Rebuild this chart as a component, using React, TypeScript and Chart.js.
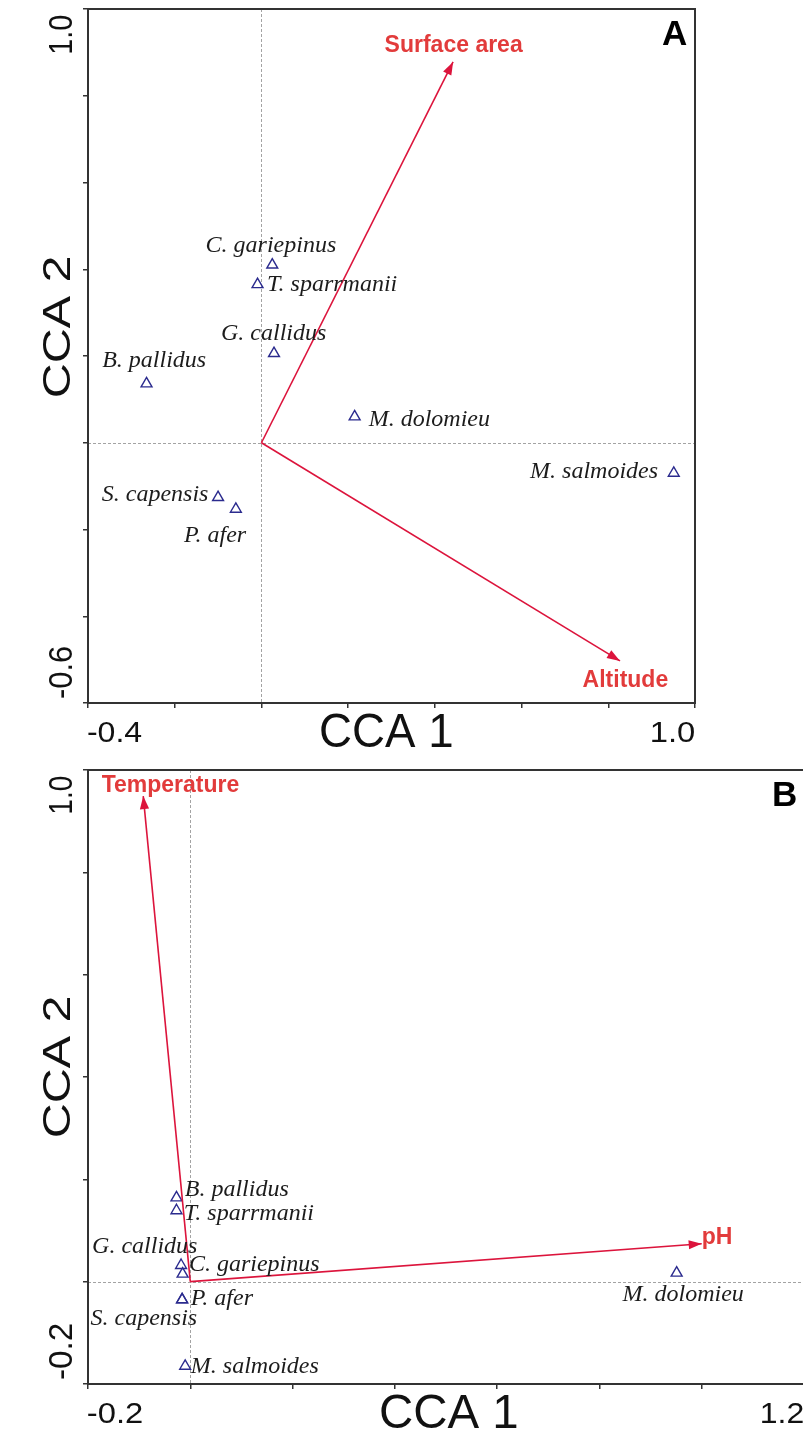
import { useEffect, useRef } from 'react';
import { Chart, registerables } from 'chart.js';

Chart.register(...registerables);

// ---------- Panel A: species and environmental scores ----------
const speciesA = ['C. gariepinus', 'T. sparrmanii', 'G. callidus', 'B. pallidus', 'M. dolomieu', 'M. salmoides', 'S. capensis', 'P. afer'];
const speciesA_cca1 = [0.025, -0.009, 0.029, -0.265, 0.215, 0.951, -0.1, -0.059];
const speciesA_cca2 = [0.41, 0.365, 0.206, 0.136, 0.06, -0.07, -0.126, -0.153];
const envA = ['Surface area', 'Altitude'];
const envA_cca1 = [0.442, 0.827];
const envA_cca2 = [0.878, -0.503];
const xRangeA = [-0.4, 1.0];
const yRangeA = [-0.6, 1.0];
const xTickLabelsA = ['-0.4', '1.0'];
const yTickLabelsA = ['-0.6', '1.0'];

// ---------- Panel B: species and environmental scores ----------
const speciesB = ['B. pallidus', 'T. sparrmanii', 'G. callidus', 'C. gariepinus', 'P. afer', 'S. capensis', 'M. salmoides', 'M. dolomieu'];
const speciesB_cca1 = [-0.027, -0.027, -0.018, -0.015, -0.016, -0.016, -0.01, 0.951];
const speciesB_cca2 = [0.164, 0.139, 0.032, 0.015, -0.035, -0.035, -0.165, 0.017];
const envB = ['Temperature', 'pH'];
const envB_cca1 = [-0.092, 1.0];
const envB_cca2 = [0.949, 0.074];
const xRangeB = [-0.2, 1.2];
const yRangeB = [-0.2, 1.0];
const xTickLabelsB = ['-0.2', '1.2'];
const yTickLabelsB = ['-0.2', '1.0'];

const tickStep = 0.2;

// ---------- styling ----------
const SANS = '"Liberation Sans", Arial, Helvetica, sans-serif';
const SERIF = '"Liberation Serif", "Times New Roman", serif';
const ENV_LINE = '#dc143c';
const ENV_TEXT = '#e23b3b';
const POINT_COLOR = '#2b2b8e';
const TEXT = '#111';

type Align = 'left' | 'right' | 'center';
type Place = { align: Align; dx: number; dy: number };

const speciesPlaceA: Place[] = [
  { align: 'center', dx: -1, dy: -13 },
  { align: 'left', dx: 10.5, dy: 6.7 },
  { align: 'center', dx: 0, dy: -13.3 },
  { align: 'center', dx: 7.5, dy: -17 },
  { align: 'left', dx: 13, dy: 9.4 },
  { align: 'right', dx: -16, dy: 5 },
  { align: 'right', dx: -10, dy: 3.4 },
  { align: 'right', dx: 11, dy: 32.8 },
];
const envPlaceA: Place[] = [
  { align: 'center', dx: 0.7, dy: -10 },
  { align: 'center', dx: 5, dy: 26 },
];
const speciesPlaceB: Place[] = [
  { align: 'left', dx: 8.3, dy: -1.6 },
  { align: 'left', dx: 8.3, dy: 9.1 },
  { align: 'right', dx: 16, dy: -12.6 },
  { align: 'left', dx: 7.3, dy: -2.6 },
  { align: 'left', dx: 7.7, dy: 5.1 },
  { align: 'right', dx: 14.7, dy: 25.1 },
  { align: 'left', dx: 4.7, dy: 6.7 },
  { align: 'center', dx: 6, dy: 28.4 },
];
const envPlaceB: Place[] = [
  { align: 'left', dx: -41.6, dy: -3.7 },
  { align: 'left', dx: 1, dy: 0 },
];

interface PanelSpec {
  letter: string;
  xRange: number[];
  yRange: number[];
  xTickLabels: string[];
  yTickLabels: string[];
  species: string[];
  s1: number[];
  s2: number[];
  sPlace: Place[];
  env: string[];
  e1: number[];
  e2: number[];
  ePlace: Place[];
  padding: { left: number; right: number; top: number; bottom: number };
  // ink lengths of the end tick labels and titles (printed figure proportions)
  xTickLen: number[];
  yTickLen: number[];
  xTitleLen: number;
  yTitleLen: number;
  xTitleDx: number;
  yTitleDy: number;
}

// Draws text whose ink box (not advance box) is aligned to the origin,
// optionally stretched along the baseline to a given ink length and
// rotated to read bottom-to-top.
function inkText(
  ctx: CanvasRenderingContext2D,
  text: string,
  x: number,
  y: number,
  font: string,
  color: string,
  align: Align,
  fitLen = 0,
  rotate = false
) {
  ctx.save();
  ctx.font = font;
  ctx.textAlign = 'left';
  ctx.textBaseline = 'alphabetic';
  const m = ctx.measureText(text);
  const inkL = -m.actualBoundingBoxLeft;
  const inkR = m.actualBoundingBoxRight;
  const sx = fitLen > 0 ? fitLen / (inkR - inkL) : 1;
  let off = -inkL;
  if (align === 'right') off = -inkR;
  if (align === 'center') off = -(inkL + inkR) / 2;
  ctx.translate(x, y);
  if (rotate) ctx.rotate(-Math.PI / 2);
  ctx.scale(sx, 1);
  ctx.fillStyle = color;
  ctx.fillText(text, off, 0);
  ctx.restore();
}

function makeDecor(spec: PanelSpec) {
  return {
    id: 'ordinationDecor',
    beforeDatasetsDraw(chart: Chart) {
      const { ctx, chartArea: a } = chart;
      const xs = chart.scales.x;
      const ys = chart.scales.y;
      const x0 = Math.round(xs.getPixelForValue(0)) + 0.5;
      const y0 = Math.round(ys.getPixelForValue(0)) + 0.5;
      ctx.save();
      ctx.strokeStyle = '#a3a3a3';
      ctx.lineWidth = 1;
      ctx.setLineDash([3, 2]);
      ctx.beginPath();
      ctx.moveTo(x0, a.top);
      ctx.lineTo(x0, a.bottom);
      ctx.moveTo(a.left, y0);
      ctx.lineTo(a.right, y0);
      ctx.stroke();
      ctx.restore();
    },
    afterDatasetsDraw(chart: Chart) {
      const { ctx } = chart;
      // arrowheads on environmental vectors (datasets 0..n-1)
      spec.env.forEach((name, i) => {
        const meta = chart.getDatasetMeta(i);
        const p0 = meta.data[0] as any;
        const p1 = meta.data[1] as any;
        const ang = Math.atan2(p1.y - p0.y, p1.x - p0.x);
        const L = 13;
        const W = 4.6;
        const c = Math.cos(ang);
        const s = Math.sin(ang);
        ctx.save();
        ctx.fillStyle = ENV_LINE;
        ctx.beginPath();
        ctx.moveTo(p1.x, p1.y);
        ctx.lineTo(p1.x - L * c + W * s, p1.y - L * s - W * c);
        ctx.lineTo(p1.x - L * c - W * s, p1.y - L * s + W * c);
        ctx.closePath();
        ctx.fill();
        ctx.restore();
        const pl = spec.ePlace[i];
        inkText(ctx, name, p1.x + pl.dx, p1.y + pl.dy, `bold 23px ${SANS}`, ENV_TEXT, pl.align);
      });
      // species names
      const sMeta = chart.getDatasetMeta(spec.env.length);
      spec.species.forEach((name, i) => {
        const pt = sMeta.data[i] as any;
        const pl = spec.sPlace[i];
        inkText(ctx, name, pt.x + pl.dx, pt.y + pl.dy, `italic 24px ${SERIF}`, '#1c1c1c', pl.align);
      });
    },
    afterDraw(chart: Chart) {
      const { ctx, chartArea: a } = chart;
      const xs = chart.scales.x;
      const ys = chart.scales.y;
      // frame
      ctx.save();
      ctx.strokeStyle = '#333';
      ctx.lineWidth = 2;
      ctx.strokeRect(a.left, a.top, a.right - a.left, a.bottom - a.top);
      ctx.restore();

      // end tick labels on the horizontal axis
      const xl = xs.getPixelForValue(spec.xRange[0]);
      const xr = xs.getPixelForValue(spec.xRange[1]);
      inkText(ctx, spec.xTickLabels[0], xl, a.bottom + 39, `29px ${SANS}`, TEXT, 'left', spec.xTickLen[0]);
      inkText(ctx, spec.xTickLabels[1], xr - 1, a.bottom + 39, `29px ${SANS}`, TEXT, 'right', spec.xTickLen[1]);

      // end tick labels on the vertical axis (rotated)
      const yb = ys.getPixelForValue(spec.yRange[0]);
      const yt = ys.getPixelForValue(spec.yRange[1]);
      inkText(ctx, spec.yTickLabels[0], a.left - 16, yb - 5, `33px ${SANS}`, TEXT, 'left', spec.yTickLen[0], true);
      inkText(ctx, spec.yTickLabels[1], a.left - 16, yt + 6, `33px ${SANS}`, TEXT, 'right', spec.yTickLen[1], true);

      // axis titles
      const cx = (a.left + a.right) / 2 + spec.xTitleDx;
      inkText(ctx, 'CCA 1', cx, a.bottom + 44, `48px ${SANS}`, TEXT, 'center', spec.xTitleLen);
      const cy = (a.top + a.bottom) / 2 + spec.yTitleDy;
      inkText(ctx, 'CCA 2', a.left - 18, cy, `38px ${SANS}`, TEXT, 'center', spec.yTitleLen, true);

      // panel letter
      inkText(ctx, spec.letter, a.right - 8, a.top + 36, `bold 35px ${SANS}`, '#000', 'right');
    },
  };
}

function buildConfig(spec: PanelSpec): any {
  const envSets = spec.env.map((name, i) => ({
    type: 'line',
    label: name,
    data: [
      { x: 0, y: 0 },
      { x: spec.e1[i], y: spec.e2[i] },
    ],
    borderColor: ENV_LINE,
    borderWidth: 1.6,
    pointRadius: 0,
    fill: false,
    tension: 0,
    showLine: true,
  }));
  const speciesSet = {
    type: 'scatter',
    label: 'species',
    data: spec.species.map((_, i) => ({ x: spec.s1[i], y: spec.s2[i] })),
    pointStyle: 'triangle',
    pointRadius: 6.3,
    borderWidth: 1.4,
    borderColor: POINT_COLOR,
    backgroundColor: 'rgba(0,0,0,0)',
  };
  const axis = (range: number[], horizontal: boolean) => ({
    type: 'linear',
    min: range[0],
    max: range[1],
    ticks: { display: false, stepSize: tickStep },
    grid: { drawOnChartArea: false, drawTicks: true, tickLength: 5, color: '#333', lineWidth: 1.5 },
    border: { display: false },
    afterFit: (s: any) => {
      if (horizontal) s.height = 0;
      else s.width = 0;
    },
  });
  return {
    type: 'scatter',
    data: { datasets: [...envSets, speciesSet] },
    options: {
      animation: false,
      responsive: false,
      devicePixelRatio: 1,
      events: [],
      layout: { padding: spec.padding },
      plugins: { legend: { display: false }, tooltip: { enabled: false }, title: { display: false } },
      scales: { x: axis(spec.xRange, true), y: axis(spec.yRange, false) },
    },
    plugins: [makeDecor(spec)],
  };
}

const panelA: PanelSpec = {
  letter: 'A',
  xRange: xRangeA,
  yRange: yRangeA,
  xTickLabels: xTickLabelsA,
  yTickLabels: yTickLabelsA,
  species: speciesA,
  s1: speciesA_cca1,
  s2: speciesA_cca2,
  sPlace: speciesPlaceA,
  env: envA,
  e1: envA_cca1,
  e2: envA_cca2,
  ePlace: envPlaceA,
  padding: { left: 88, right: 108, top: 9, bottom: 57 },
  xTickLen: [54, 42],
  yTickLen: [51, 38],
  xTitleLen: 131,
  yTitleLen: 140,
  xTitleDx: -5,
  yTitleDy: -29,
};

const panelB: PanelSpec = {
  letter: 'B',
  xRange: xRangeB,
  yRange: yRangeB,
  xTickLabels: xTickLabelsB,
  yTickLabels: yTickLabelsB,
  species: speciesB,
  s1: speciesB_cca1,
  s2: speciesB_cca2,
  sPlace: speciesPlaceB,
  env: envB,
  e1: envB_cca1,
  e2: envB_cca2,
  ePlace: envPlaceB,
  padding: { left: 88, right: 26, top: 10, bottom: 51 },
  xTickLen: [54, 41],
  yTickLen: [55, 37],
  xTitleLen: 136,
  yTitleLen: 140,
  xTitleDx: 3,
  yTitleDy: -10,
};

function OrdinationPanel({ spec, width, height, top }: { spec: PanelSpec; width: number; height: number; top: number }) {
  const ref = useRef<HTMLCanvasElement | null>(null);
  useEffect(() => {
    if (!ref.current) return;
    const chart = new Chart(ref.current, buildConfig(spec));
    return () => chart.destroy();
  }, [spec]);
  return (
    <canvas
      ref={ref}
      width={width}
      height={height}
      style={{ position: 'absolute', left: 0, top, width, height, display: 'block' }}
    />
  );
}

export default function App() {
  return (
    <div
      style={{
        position: 'fixed',
        left: 0,
        top: 0,
        width: 803,
        height: 1435,
        overflow: 'hidden',
        background: '#fff',
      }}
    >
      <OrdinationPanel spec={panelA} width={803} height={760} top={0} />
      <OrdinationPanel spec={panelB} width={830} height={675} top={760} />
    </div>
  );
}
